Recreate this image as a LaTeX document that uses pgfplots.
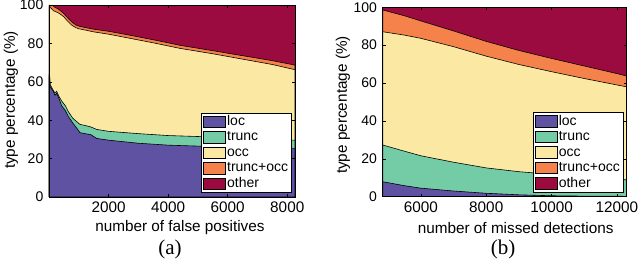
\documentclass[border=0pt]{standalone}
\usepackage{fontspec}
\setmainfont{Liberation Sans}
\newfontfamily\capfont{Liberation Serif}
\usepackage{pgfplots}
\pgfplotsset{compat=1.18}
\definecolor{cloc}{HTML}{5F52A3}
\definecolor{ctrunc}{HTML}{73CCA6}
\definecolor{cocc}{HTML}{FBE9A3}
\definecolor{cto}{HTML}{F5824A}
\definecolor{cother}{HTML}{9B0B3F}
\newcommand\tickfont{\fontsize{15.3}{16}\selectfont}
\newcommand\ytickfont{\fontsize{14}{15}\selectfont}
\pgfplotsset{
  myax/.style={
    scale only axis, anchor=south west,
    axis on top,
    ymin=0, ymax=100, ytick={0,20,...,100},
    tick align=inside, major tick length=3pt,
    xtick pos=both, ytick pos=both,
    scaled x ticks=false,
    /pgf/number format/1000 sep={},
    /pgf/number format/assume math mode=true,
    xticklabel style={font=\tickfont, inner sep=0pt, yshift=-4.5pt},
    yticklabel style={font=\ytickfont, inner sep=0pt, xshift=-5.5pt},
    axis line style={line width=0.7pt},
    every tick/.style={black, line width=0.5pt},
    ylabel={type percentage (\%)},
    legend image code/.code={\filldraw[#1] (0pt,-5.8pt) rectangle (22pt,5.8pt);},
    legend cell align=left,
    legend style={at={(1,0)}, anchor=south east, xshift=-3.3pt, yshift=4.3pt,
      draw=black, line width=0.6pt, fill=white, inner xsep=2pt, inner ysep=1pt, row sep=0pt,
      font=\fontsize{14}{14}\selectfont,
      nodes={inner xsep=1.2pt, inner ysep=0.5pt, text height=11pt, text depth=3.5pt}},
  },
  ar/.style={draw=black, line width=0.6pt, forget plot},
}
\begin{document}
\begin{tikzpicture}[x=1pt,y=1pt]
\useasboundingbox (0,0) rectangle (640,262);
\begin{axis}[myax, at={(49pt,65pt)}, width=246pt, height=192pt,
  xmin=0, xmax=8260, xtick={2000,4000,6000,8000},
  xlabel={number of false positives},
  xlabel style={font=\tickfont, at={(axis description cs:0.532,-0.16)}, anchor=center},
  ylabel style={font=\tickfont, at={(axis description cs:-0.1545,0.505)}, anchor=center, rotate=0},
]
\addplot[ar, fill=cother] coordinates {(0,100) (8260,100)} \closedcycle;
\addplot[ar, fill=cto] coordinates {(0,100) (60,99.5) (120,99.8) (200,98.8) (300,98) (400,96.8) (500,95.5) (600,93.8) (760,91.2) (900,89.6) (1000,89) (1200,88.3) (1500,87.4) (2000,86.3) (2600,84.6) (3500,81.9) (4400,79) (5500,76.2) (6500,73.6) (7500,71) (8260,68.7)} \closedcycle;
\addplot[ar, fill=cocc] coordinates {(0,99) (60,98.5) (150,97) (300,96) (400,95) (500,93.8) (600,92) (760,89.5) (900,88.2) (1000,87.6) (1200,87) (1500,86) (2000,84.8) (2600,83) (3500,80.3) (4400,77.4) (5500,74.6) (6500,71.8) (7500,69) (8260,66.3)} \closedcycle;
\addplot[ar, fill=ctrunc] coordinates {(0,63.5) (15,64.5) (40,58.5) (144,55.5) (200,54.2) (258,55) (330,52.5) (425,50) (550,47.5) (647,44.5) (800,41) (950,39) (1040,37.8) (1200,37.3) (1400,36.5) (1600,35.2) (2000,34.2) (3000,33) (4000,32) (5000,31.5) (6000,31) (7000,30.3) (8260,29.6)} \closedcycle;
\addplot[ar, fill=cloc] coordinates {(0,62) (15,64) (40,57.5) (144,55) (200,53) (258,54) (330,51.5) (425,47.5) (550,45) (647,42) (800,38.5) (950,35.5) (1040,33.5) (1200,33) (1400,32.5) (1600,30.5) (2000,29.6) (3000,28) (4000,27) (5000,26.5) (6000,26) (7000,25.6) (8260,25.2)} \closedcycle;
\addlegendimage{fill=cloc, draw=black, line width=0.6pt}\addlegendentry{loc}
\addlegendimage{fill=ctrunc, draw=black, line width=0.6pt}\addlegendentry{trunc}
\addlegendimage{fill=cocc, draw=black, line width=0.6pt}\addlegendentry{occ}
\addlegendimage{fill=cto, draw=black, line width=0.6pt}\addlegendentry{trunc+occ}
\addlegendimage{fill=cother, draw=black, line width=0.6pt}\addlegendentry{other}
\end{axis}
\begin{axis}[myax, at={(382.7pt,65.3pt)}, width=244pt, height=189.4pt,
  xmin=4830, xmax=12300, xtick={6000,8000,10000,12000},
  xlabel={number of missed detections},
  xlabel style={font=\tickfont, at={(axis description cs:0.545,-0.163)}, anchor=center},
  ylabel style={font=\tickfont, at={(axis description cs:-0.163,0.484)}, anchor=center, rotate=0},
]
\addplot[ar, fill=cother] coordinates {(4830,100) (12300,100)} \closedcycle;
\addplot[ar, fill=cto] coordinates {(4830,98.6) (5500,95.5) (6000,92.8) (7000,87.5) (8000,82) (9000,77.2) (10000,73) (11000,69) (12000,65) (12300,63.7)} \closedcycle;
\addplot[ar, fill=cocc] coordinates {(4830,87.1) (5500,85.3) (6000,83.6) (7000,79.2) (8000,74.2) (9000,69.8) (10000,66) (11000,62.4) (12000,59) (12300,58)} \closedcycle;
\addplot[ar, fill=ctrunc] coordinates {(4830,27.3) (5500,24) (6000,21.6) (7000,18.2) (8000,15.2) (9000,13.2) (10000,11.8) (11000,10.5) (12000,9.2) (12300,8.9)} \closedcycle;
\addplot[ar, fill=cloc] coordinates {(4830,7.9) (5500,5.8) (6000,4.5) (7000,3) (8000,1.8) (9000,1) (10000,0.5) (11000,0.3) (12300,0.2)} \closedcycle;
\addlegendimage{fill=cloc, draw=black, line width=0.6pt}\addlegendentry{loc}
\addlegendimage{fill=ctrunc, draw=black, line width=0.6pt}\addlegendentry{trunc}
\addlegendimage{fill=cocc, draw=black, line width=0.6pt}\addlegendentry{occ}
\addlegendimage{fill=cto, draw=black, line width=0.6pt}\addlegendentry{trunc+occ}
\addlegendimage{fill=cother, draw=black, line width=0.6pt}\addlegendentry{other}
\end{axis}
\node[font=\capfont\fontsize{21}{21}\selectfont] at (170,13) {(a)};
\node[font=\capfont\fontsize{21}{21}\selectfont] at (503,13) {(b)};
\end{tikzpicture}
\end{document}
